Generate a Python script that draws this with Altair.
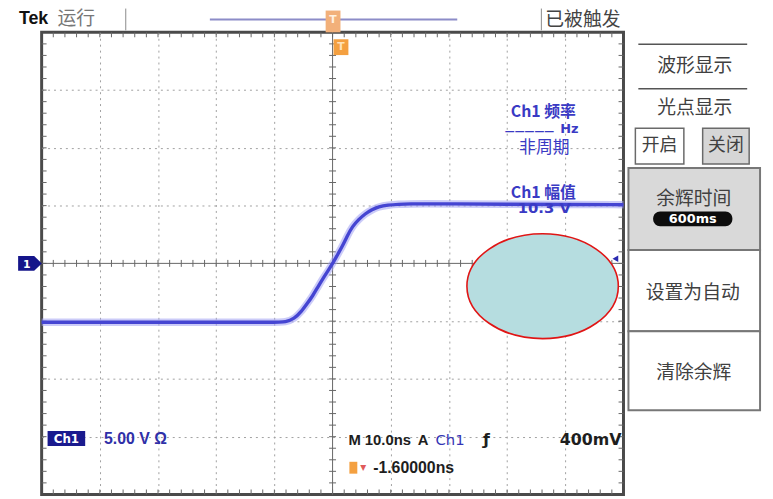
import altair as alt
import pandas as pd

t_ns = [-50, -40, -30, -20, -10, -8.0, -6.6, -5.4, -4.4, -3.4, -2.6, -1.7, -0.8, 0.1,
        0.9, 1.7, 2.5, 3.4, 4.5, 5.6, 6.8, 7.9, 9.5, 11.3, 13.5, 15.8, 20, 30, 40, 50]
volts = [-5.1, -5.1, -5.1, -5.1, -5.1, -5.08, -4.8, -4.2, -3.5, -2.8, -2.1, -1.35, -0.65, 0.05,
         0.8, 1.5, 2.35, 3.2, 3.8, 4.3, 4.65, 4.9, 5.05, 5.12, 5.15, 5.16, 5.15, 5.12, 5.1, 5.08]

grid_t = [-40, -30, -20, -10, 10, 20, 30, 40]
grid_v = [-15, -10, -5, 5, 10, 15]
minor_t = [2 * i for i in range(-24, 25)]
minor_v = [i for i in range(-19, 20)]

trigger_level_v = [0.4]
trigger_marker_t = [48.6]
ch1_marker = {"t": [-52.0], "v": [0.0]}
ellipse_center = {"t": [36.1], "v": [-1.97]}

status_labels = ["Tek", "运行", "已被触发"]
menu_labels = ["波形显示", "光点显示", "开启", "关闭", "余辉时间", "600ms", "设置为自动", "清除余辉"]
readout_labels = ["Ch1 频率", "—————", "Hz", "非周期", "Ch1 幅值", "10.3 V"]
bottom_labels = ["Ch1", "5.00 V Ω", "M 10.0ns", "A", "Ch1", "ƒ", "400mV", "▾", "-1.60000ns", "1", "T"]

# ---------------- layout ----------------
W, H = 588, 467
X0, Y0 = 42, 30


def px(x):
    return x - X0


def py(y):
    return y - Y0


xs = alt.Scale(domain=[-50, 50], nice=False, zero=False)
ys = alt.Scale(domain=[-20, 20], nice=False, zero=False)
xaxis = alt.Axis(values=grid_t, grid=True, gridDash=[2, 4], gridColor="#a0a0a0", gridWidth=1,
                 labels=False, ticks=False, domain=False, title=None)
yaxis = alt.Axis(values=grid_v, grid=True, gridDash=[2, 4], gridColor="#a0a0a0", gridWidth=1,
                 labels=False, ticks=False, domain=False, title=None)


def X(f):
    return alt.X(f"{f}:Q", scale=xs, axis=xaxis)


def Y(f):
    return alt.Y(f"{f}:Q", scale=ys, axis=yaxis)


one = alt.Data(values=[{"k": 0}])

layers = []

# graticule
tdf = pd.DataFrame({"t": minor_t})
vdf = pd.DataFrame({"v": minor_v})
tick_col = "#666666"
layers.append(alt.Chart(pd.DataFrame({"t": [0]})).mark_rule(color=tick_col, strokeWidth=1).encode(x=X("t")))
layers.append(alt.Chart(pd.DataFrame({"v": [0]})).mark_rule(color=tick_col, strokeWidth=1).encode(y=Y("v")))
layers.append(alt.Chart(tdf).mark_rule(color=tick_col).encode(x=X("t"), y=alt.value(H / 2 - 3.5), y2=alt.value(H / 2 + 3.5)))
layers.append(alt.Chart(vdf).mark_rule(color=tick_col).encode(y=Y("v"), x=alt.value(W / 2 - 3.5), x2=alt.value(W / 2 + 3.5)))
layers.append(alt.Chart(tdf).mark_rule(color=tick_col).encode(x=X("t"), y=alt.value(0), y2=alt.value(5)))
layers.append(alt.Chart(tdf).mark_rule(color=tick_col).encode(x=X("t"), y=alt.value(H - 5), y2=alt.value(H)))
layers.append(alt.Chart(vdf).mark_rule(color=tick_col).encode(y=Y("v"), x=alt.value(0), x2=alt.value(5)))
layers.append(alt.Chart(vdf).mark_rule(color=tick_col).encode(y=Y("v"), x=alt.value(W - 5), x2=alt.value(W)))

# trace
trace = pd.DataFrame({"t": t_ns, "v": volts})
layers.append(alt.Chart(trace).mark_line(color="#a0a0f2", strokeWidth=7.5, opacity=0.55,
                                          interpolate="basis").encode(x=X("t"), y=Y("v")))
layers.append(alt.Chart(trace).mark_line(color="#4545d2", strokeWidth=3.4,
                                          interpolate="basis").encode(x=X("t"), y=Y("v")))


def label(text, x, y, size=14, color="#222222", weight="normal", align="left",
          font="Liberation Sans"):
    return alt.Chart(alt.Data(values=[{"s": text}])).mark_text(
        align=align, baseline="middle", fontSize=size, color=color, fontWeight=weight, font=font
    ).encode(text="s:N", x=alt.value(px(x)), y=alt.value(py(y)))


def box(x1, y1, x2, y2, fill, stroke=None, sw=1.0, r=0):
    kw = dict(fill=fill, cornerRadius=r)
    if stroke:
        kw.update(stroke=stroke, strokeWidth=sw)
    return alt.Chart(one).mark_rect(**kw).encode(
        x=alt.value(px(x1)), x2=alt.value(px(x2)), y=alt.value(py(y1)), y2=alt.value(py(y2)))


def line(x1, y1, x2, y2, color="#888888", sw=1.0):
    return alt.Chart(one).mark_rule(color=color, strokeWidth=sw).encode(
        x=alt.value(px(x1)), x2=alt.value(px(x2)), y=alt.value(py(y1)), y2=alt.value(py(y2)))


CJK = "Noto Sans CJK SC"
BLUE = "#3a3ac4"

# readouts inside graticule
layers.append(label(readout_labels[0], 549, 111, 16, BLUE, "bold", "center", CJK))
layers.append(label(readout_labels[1], 510, 131, 10, BLUE, "bold", "left", "DejaVu Sans"))
layers.append(label(readout_labels[2], 566, 128, 13, BLUE, "bold", "left", "DejaVu Sans"))
layers.append(label(readout_labels[3], 550, 147, 17, BLUE, "normal", "center", CJK))
layers.append(label(readout_labels[4], 549, 192, 16, BLUE, "bold", "center", CJK))
layers.append(label(readout_labels[5], 550, 208, 15, BLUE, "bold", "center", "DejaVu Sans"))

# redaction ellipse
ell_path = ("M1,0C1,0.383,0.552,0.693,0,0.693C-0.552,0.693,-1,0.383,-1,0"
            "C-1,-0.383,-0.552,-0.693,0,-0.693C0.552,-0.693,1,-0.383,1,0Z")
layers.append(alt.Chart(pd.DataFrame(ellipse_center)).mark_point(
    shape=ell_path, size=153 * 153, filled=True, fill="#b6dde0", fillOpacity=1,
    stroke="#e01515", strokeWidth=1.6, opacity=1).encode(x=X("t"), y=Y("v")))

# trigger level marker and channel marker
layers.append(alt.Chart(pd.DataFrame({"t": trigger_marker_t, "v": trigger_level_v})).mark_point(
    shape="triangle-left", size=45, filled=True, color="#2a2ab0", opacity=1).encode(x=X("t"), y=Y("v")))
tag_path = "M-1,-0.62L0.35,-0.62L1,0L0.35,0.62L-1,0.62Z"
layers.append(alt.Chart(pd.DataFrame(ch1_marker)).mark_point(
    shape=tag_path, size=24 * 24, filled=True, color="#15158a", opacity=1).encode(x=X("t"), y=Y("v")))
layers.append(label(bottom_labels[9], 27, 265, 11, "#ffffff", "bold", "center", "DejaVu Sans"))

# status bar
layers.append(label(status_labels[0], 19, 17, 18, "#111111", "bold", "left", "Liberation Sans"))
layers.append(label(status_labels[1], 58, 17, 19, "#777777", "normal", "left", CJK))
layers.append(line(127, 6, 127, 28, "#8a8a8a", 1))
layers.append(line(547, 6, 547, 28, "#8a8a8a", 1))
layers.append(label(status_labels[2], 551, 18, 19, "#444444", "normal", "left", CJK))
layers.append(line(212, 17, 462, 17, "#8c8cc8", 2))
layers.append(box(329, 8, 344, 30, "#f2b07a"))
layers.append(label(bottom_labels[10], 336.5, 18, 11, "#fff1e0", "bold", "center", "DejaVu Sans"))
layers.append(box(337, 37, 352, 53, "#f4a040"))
layers.append(label(bottom_labels[10], 344.5, 45, 11, "#ffe2b8", "bold", "center", "DejaVu Sans"))

# right menu
MENU = "#404040"
layers.append(line(645, 42, 755, 42, "#555555", 1.5))
layers.append(label(menu_labels[0], 702, 64, 19, MENU, "normal", "center", CJK))
layers.append(line(645, 87, 755, 87, "#555555", 1.5))
layers.append(label(menu_labels[1], 702, 107, 19, MENU, "normal", "center", CJK))
layers.append(box(642, 127, 691, 163, "#ffffff", "#6a6a6a", 1.5))
layers.append(label(menu_labels[2], 666.5, 145, 18, MENU, "normal", "center", CJK))
layers.append(box(710, 127, 757, 163, "#d6d6d6", "#6a6a6a", 1.5))
layers.append(label(menu_labels[3], 733.5, 145, 18, MENU, "normal", "center", CJK))
layers.append(box(635, 167, 768, 250, "#d9d9d9", "#777777", 2))
layers.append(label(menu_labels[4], 701, 199, 19, MENU, "normal", "center", CJK))
layers.append(box(660, 211, 740, 226, "#0c0c0c", None, 1, 7))
layers.append(label(menu_labels[5], 700, 219, 13, "#ffffff", "bold", "center", "DejaVu Sans"))
layers.append(box(635, 250, 768, 332, "#ffffff", "#777777", 2))
layers.append(label(menu_labels[6], 700, 293, 19, MENU, "normal", "center", CJK))
layers.append(box(635, 332, 768, 412, "#ffffff", "#777777", 2))
layers.append(label(menu_labels[7], 701, 374, 19, MENU, "normal", "center", CJK))

# bottom readouts
layers.append(box(48, 433, 86, 448, "#1a1a8e"))
layers.append(label(bottom_labels[0], 67, 441, 12, "#ffffff", "bold", "center", "DejaVu Sans"))
layers.append(label(bottom_labels[1], 105, 441, 16, "#3030a8", "bold", "left", "Liberation Sans"))
layers.append(label(bottom_labels[2], 352, 442, 15, "#1e1e1e", "bold", "left", "Liberation Sans"))
layers.append(label(bottom_labels[3], 422, 442, 15, "#1e1e1e", "bold", "left", "Liberation Sans"))
layers.append(label(bottom_labels[4], 440, 442, 15, "#3535b5", "normal", "left", "DejaVu Sans"))
layers.append(label(bottom_labels[5], 488, 442, 16, "#1e1e1e", "bold", "left", "DejaVu Sans"))
layers.append(label(bottom_labels[6], 628, 442, 16, "#1e1e1e", "bold", "right", "DejaVu Sans"))
layers.append(box(353, 464, 361, 476, "#f4a040"))
layers.append(label(bottom_labels[7], 364, 469, 12, "#e05a5a", "normal", "left", "DejaVu Sans"))
layers.append(label(bottom_labels[8], 377, 470, 16, "#1e1e1e", "bold", "left", "Liberation Sans"))

chart = alt.layer(*layers).properties(
    width=W, height=H,
    autosize=alt.AutoSizeParams(type="none"),
    padding={"left": 34, "top": 22, "right": 143, "bottom": 0},
    background="#ffffff",
).configure_view(stroke="#4a4a4a", strokeWidth=3)

chart.save("out.html", embed_options={"renderer": "svg", "actions": False})
